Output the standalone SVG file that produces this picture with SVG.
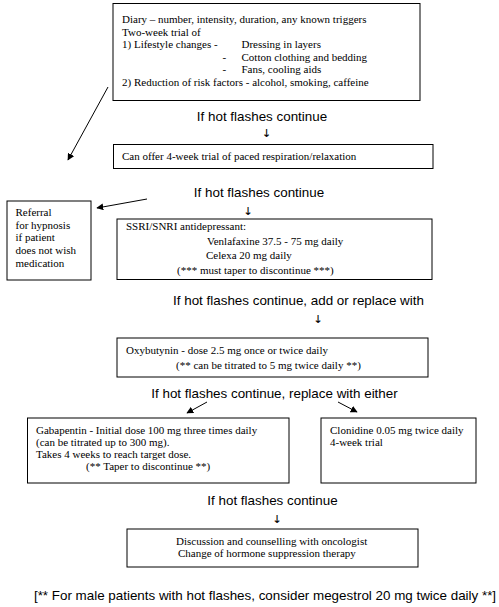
<svg xmlns="http://www.w3.org/2000/svg" width="499" height="607" viewBox="0 0 499 607">
<defs>
<style>
.box{fill:#fff;stroke:#000;stroke-width:1}
.t{font-family:"Liberation Serif","Times New Roman",serif;font-size:11px;fill:#000}
.a{font-family:"Liberation Sans",Arial,sans-serif;font-size:13.4px;fill:#000}
.dn{font-family:"DejaVu Sans","Noto Sans",sans-serif;font-size:11px;fill:#000;stroke:#000;stroke-width:0.15}
.ln{stroke:#000;stroke-width:1;fill:none}
</style>
<marker id="ah" viewBox="0 0 10 10" refX="9" refY="5" markerWidth="7" markerHeight="7" orient="auto" markerUnits="userSpaceOnUse">
<path d="M0,0 L10,5 L0,10 z" fill="#000"/>
</marker>
</defs>
<rect width="499" height="607" fill="#fff"/>

<g id="node-diary">
<rect class="box" x="113" y="3.5" width="307" height="97"/>
<text class="t" x="122" y="23">Diary – number, intensity, duration, any known triggers</text>
<text class="t" x="122" y="35.5">Two-week trial of</text>
<text class="t" x="122" y="48">1)  Lifestyle changes  -</text>
<text class="t" x="241.5" y="48">Dressing in layers</text>
<text class="t" x="222.5" y="60.5">-</text>
<text class="t" x="241.5" y="60.5">Cotton clothing and bedding</text>
<text class="t" x="222.5" y="73">-</text>
<text class="t" x="241.5" y="73">Fans, cooling aids</text>
<text class="t" x="122" y="85.5">2)  Reduction of risk factors - alcohol, smoking, caffeine</text>
</g>

<g id="label-1">
<text class="a" x="262" y="120.5" text-anchor="middle">If hot flashes continue</text>
<text class="dn" x="266.5" y="136.5" text-anchor="middle">↓</text>
</g>

<g id="node-paced">
<rect class="box" x="113.5" y="144.5" width="319.5" height="24"/>
<text class="t" x="122" y="159.7">Can offer 4-week trial of paced respiration/relaxation</text>
</g>

<g id="label-2">
<text class="a" x="259" y="196.8" text-anchor="middle">If hot flashes continue</text>
<text class="dn" x="248" y="214.5" text-anchor="middle">↓</text>
</g>

<g id="node-referral">
<rect class="box" x="7" y="201" width="84" height="79"/>
<text class="t" x="15.5" y="215.7">Referral</text>
<text class="t" x="15.5" y="228.5">for hypnosis</text>
<text class="t" x="15.5" y="241.2">if patient</text>
<text class="t" x="15.5" y="254">does not wish</text>
<text class="t" x="15.5" y="266.7">medication</text>
</g>

<g id="node-ssri">
<rect class="box" x="117" y="219" width="315" height="60.5"/>
<text class="t" x="126" y="229.5">SSRI/SNRI antidepressant:</text>
<text class="t" x="207" y="244.5">Venlafaxine 37.5 - 75 mg daily</text>
<text class="t" x="206" y="259">Celexa 20 mg daily</text>
<text class="t" x="177" y="273.5">(*** must taper to discontinue ***)</text>
</g>

<g id="label-3">
<text class="a" x="298.5" y="304.8" text-anchor="middle">If hot flashes continue, add or replace with</text>
<text class="dn" x="318" y="322.5" text-anchor="middle">↓</text>
</g>

<g id="node-oxybutynin">
<rect class="box" x="117" y="338" width="311" height="39"/>
<text class="t" x="126" y="353.7">Oxybutynin - dose 2.5 mg once or twice daily</text>
<text class="t" x="176" y="368.7">(** can be titrated to 5 mg twice daily **)</text>
</g>

<g id="label-4">
<text class="a" x="274.5" y="397.8" text-anchor="middle">If hot flashes continue, replace with either</text>
</g>

<g id="node-gabapentin">
<rect class="box" x="27.5" y="418" width="261.5" height="65"/>
<text class="t" x="36" y="433.7">Gabapentin - Initial dose 100 mg three times daily</text>
<text class="t" x="36" y="445.7">(can be titrated up to 300 mg).</text>
<text class="t" x="36" y="457.7">Takes 4 weeks to reach target dose.</text>
<text class="t" x="86" y="469.7">(** Taper to discontinue **)</text>
</g>

<g id="node-clonidine">
<rect class="box" x="321" y="418" width="155" height="65"/>
<text class="t" x="330" y="433.7">Clonidine 0.05 mg twice daily</text>
<text class="t" x="330" y="446.3">4-week trial</text>
</g>

<g id="label-5">
<text class="a" x="272.5" y="504.8" text-anchor="middle">If hot flashes continue</text>
<text class="dn" x="277" y="522.5" text-anchor="middle">↓</text>
</g>

<g id="node-oncologist">
<rect class="box" x="127" y="529" width="291" height="38"/>
<text class="t" x="176" y="544.7">Discussion and counselling with oncologist</text>
<text class="t" x="178" y="556.7">Change of hormone suppression therapy</text>
</g>

<g id="footer">
<text class="a" x="265" y="599.8" text-anchor="middle">[** For male patients with hot flashes, consider megestrol 20 mg twice daily **]</text>
</g>

<g id="connectors">
<line class="ln" x1="108" y1="87" x2="68" y2="160" marker-end="url(#ah)"/>
<line class="ln" x1="147" y1="199" x2="97" y2="208" marker-end="url(#ah)"/>
<line class="ln" x1="207" y1="402" x2="187" y2="413" marker-end="url(#ah)"/>
<line class="ln" x1="338" y1="402" x2="357" y2="412" marker-end="url(#ah)"/>
</g>
</svg>
